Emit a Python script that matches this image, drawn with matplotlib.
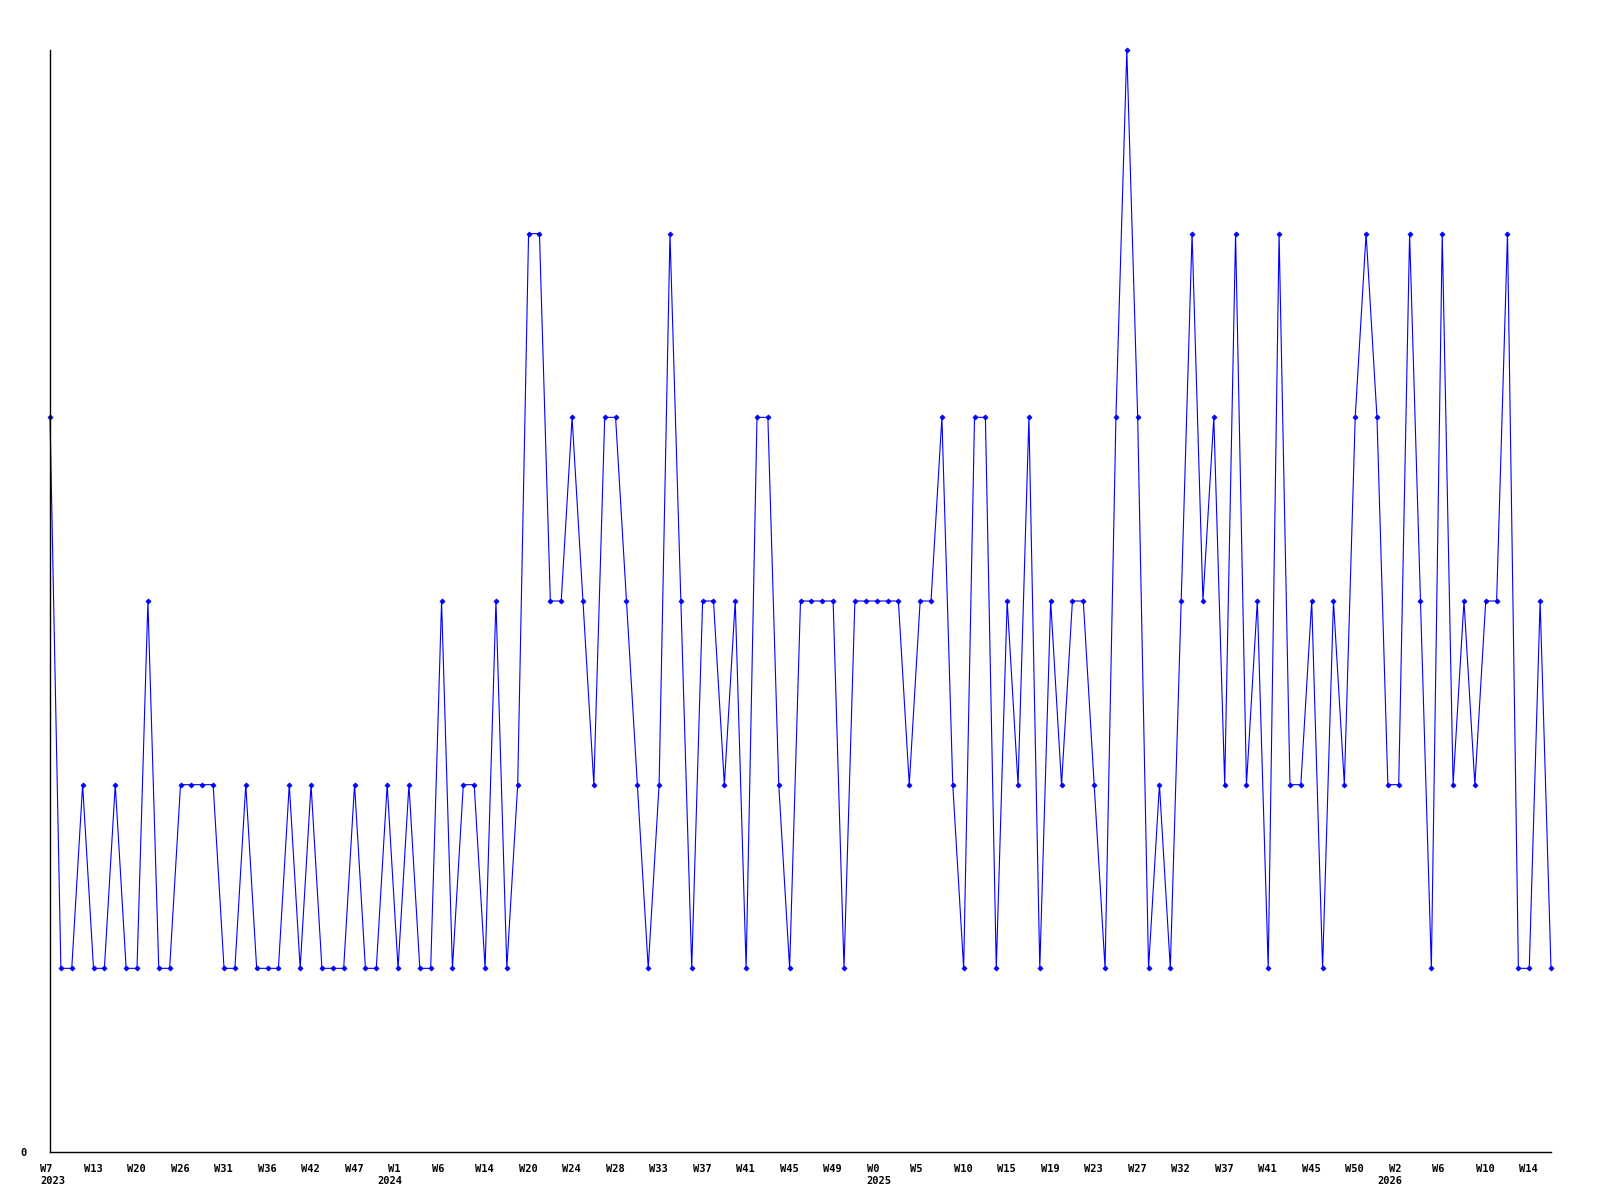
import matplotlib
matplotlib.use("Agg")
import matplotlib.pyplot as plt
import matplotlib.transforms as mtransforms

# weekly counts (139 points)
counts = [
    4, 1, 1, 2, 1, 1, 2, 1, 1, 3, 1, 1, 2, 2, 2, 2, 1, 1, 2, 1,
    1, 1, 2, 1, 2, 1, 1, 1, 2, 1, 1, 2, 1, 2, 1, 1, 3, 1, 2, 2,
    1, 3, 1, 2, 5, 5, 3, 3, 4, 3, 2, 4, 4, 3, 2, 1, 2, 5, 3, 1,
    3, 3, 2, 3, 1, 4, 4, 2, 1, 3, 3, 3, 3, 1, 3, 3, 3, 3, 3, 2,
    3, 3, 4, 2, 1, 4, 4, 1, 3, 2, 4, 1, 3, 2, 3, 3, 2, 1, 4, 6,
    4, 1, 2, 1, 3, 5, 3, 4, 2, 5, 2, 3, 1, 5, 2, 2, 3, 1, 3, 2,
    4, 5, 4, 2, 2, 5, 3, 1, 5, 2, 3, 2, 3, 3, 5, 1, 1, 3, 1,
]
week_labels = [
    "W7", "W13", "W20", "W26", "W31", "W36", "W42", "W47", "W1", "W6",
    "W14", "W20", "W24", "W28", "W33", "W37", "W41", "W45", "W49", "W0",
    "W5", "W10", "W15", "W19", "W23", "W27", "W32", "W37", "W41", "W45",
    "W50", "W2", "W6", "W10", "W14",
]
week_pos = list(range(0, 4 * len(week_labels), 4))
year_labels = ["2023", "2024", "2025", "2026"]
year_pos = [0, 31, 76, 123]

font = {"family": "DejaVu Sans Mono", "weight": "bold", "size": 7.5}

fig = plt.figure(figsize=(16, 12), dpi=100)
ax = fig.add_axes([50 / 1600, 1 - 1152 / 1200, 1501 / 1600, 1102 / 1200])

x = list(range(len(counts)))
ax.plot(x, counts, color="#0000ff", linewidth=0.8, marker="D", markersize=2.6,
        markeredgewidth=0.5, markerfacecolor="#0000ff", markeredgecolor="#0000ff",
        clip_on=False)

ax.set_xlim(0, len(counts) - 1)
ax.set_ylim(0, 6)

for side in ["top", "right"]:
    ax.spines[side].set_visible(False)
for side in ["left", "bottom"]:
    ax.spines[side].set_color("black")
    ax.spines[side].set_linewidth(1.0)

ax.set_xticks(week_pos)
ax.set_xticklabels(week_labels, fontdict=font)
ax.tick_params(axis="x", length=0, pad=9)
shift = mtransforms.ScaledTranslation(-10 / 100, 0, fig.dpi_scale_trans)
for lab in ax.get_xticklabels():
    lab.set_horizontalalignment("left")
    lab.set_transform(lab.get_transform() + shift)

ax.set_yticks([0])
ax.set_yticklabels(["0"], fontdict=font)
ax.tick_params(axis="y", length=0, pad=17)

for lab, pos in zip(year_labels, year_pos):
    ax.annotate(lab, xy=(pos, 0), xycoords=("data", "axes fraction"),
                xytext=(-10, -29), textcoords="offset pixels",
                ha="left", va="center", **font)

fig.savefig("out.png", dpi=100)
